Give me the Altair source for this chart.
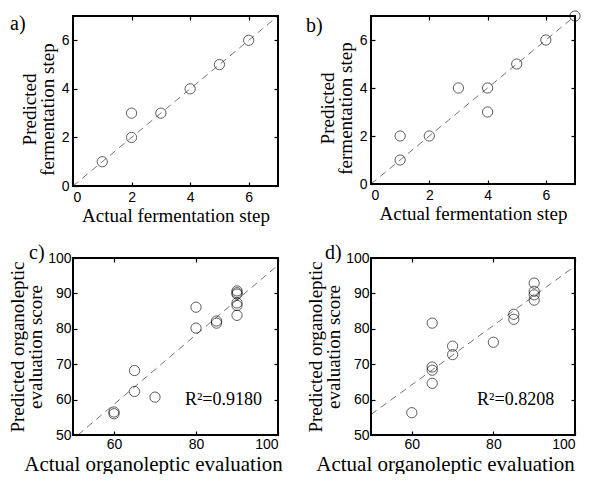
import altair as alt
import pandas as pd

# ---- data ----
a_x = [1, 2, 2, 3, 4, 5, 6]
a_y = [1, 2, 3, 3, 4, 5, 6]
b_x = [1, 1, 2, 3, 4, 4, 5, 6, 7]
b_y = [1, 2, 2, 4, 4, 3, 5, 6, 7]
ab_line_x = [0, 7]
ab_line_y = [0, 7]

c_x = [60, 60, 65, 65, 70, 80, 80, 85, 85, 90, 90, 90, 90, 90, 90]
c_y = [56.5, 56.0, 62.3, 68.2, 60.7, 86.1, 80.2, 82.2, 81.6, 90.7, 90.2, 89.8, 87.3, 86.6, 83.8]
c_line_x = [51.2, 100]
c_line_y = [50, 98]

d_x = [60, 65, 65, 65, 65, 70, 70, 80, 85, 85, 90, 90, 90, 90]
d_y = [56.3, 81.6, 69.2, 68.3, 64.6, 75.1, 72.7, 76.2, 84.1, 82.7, 92.9, 90.6, 89.6, 88.1]
d_line_x = [50, 100]
d_line_y = [55.8, 97.7]

ferm_ticks = [0, 2, 4, 6]
org_x_ticks = [60, 80, 100]
org_y_ticks = [50, 60, 70, 80, 90, 100]

c_note = ["R²=0.9180"]
c_note_x = [77.3]
c_note_y = [60.0]
d_note = ["R²=0.8208"]
d_note_x = [76.0]
d_note_y = [60.0]

SERIF = "Liberation Serif"
SANS = "Liberation Sans"


def panel(px, py, lx, ly, xdom, ydom, xticks, yticks, xtitle, ytitle, w, h,
          label, label_dx, label_dy, lab_fs, xt_fs, yt_fs, xtitle_x=None, ytitle_y=None,
          note=None, note_x=None, note_y=None, note_fs=18, lab_pad=4, ttl_pad=4,
          x_ttl_pad=2):
    pts = pd.DataFrame({"x": px, "y": py})
    ln = pd.DataFrame({"x": lx, "y": ly})
    xs = alt.Scale(domain=xdom, nice=False, zero=False)
    ys = alt.Scale(domain=ydom, nice=False, zero=False)
    tick_style = dict(tickSize=4, offset=-4, domain=False, tickColor="black",
                      tickWidth=1.2, grid=False)
    common = dict(tick_style, labelColor="black", labelFont=SANS,
                  labelFontSize=lab_fs, titleFont=SERIF, titleFontWeight="normal",
                  titleColor="black", labelPadding=lab_pad)
    xkw = dict(common, orient="bottom", values=xticks, title=xtitle,
               titleFontSize=xt_fs, titlePadding=x_ttl_pad)
    if xtitle_x is not None:
        xkw["titleX"] = xtitle_x
    ykw = dict(common, orient="left", values=yticks, title=ytitle,
               titleFontSize=yt_fs, titlePadding=ttl_pad,
               titleLineHeight=yt_fs - 1)
    if ytitle_y is not None:
        ykw["titleY"] = ytitle_y
    frame = alt.Chart(pd.DataFrame({"t": [label]})).mark_rect(
        fill="white", fillOpacity=0, stroke="black", strokeWidth=2).encode(
        x=alt.value(0), x2=alt.value(w), y=alt.value(0), y2=alt.value(h))
    tag = alt.Chart(pd.DataFrame({"t": [label]})).mark_text(
        align="left", baseline="top", font=SERIF, fontSize=20, color="black").encode(
        x=alt.value(label_dx), y=alt.value(label_dy), text="t:N")
    line = alt.Chart(ln).mark_line(color="#777777", strokeDash=[7, 5], strokeWidth=1).encode(
        x=alt.X("x:Q", scale=xs, axis=alt.Axis(**xkw)),
        y=alt.Y("y:Q", scale=ys, axis=alt.Axis(**ykw)),
    )
    frame_axes = alt.Chart(ln).mark_point(opacity=0).encode(
        x=alt.X("x:Q", scale=xs, axis=alt.Axis(orient="top", values=xticks, labels=False,
                                              title=None, **tick_style)),
        y=alt.Y("y:Q", scale=ys, axis=alt.Axis(orient="right", values=yticks, labels=False,
                                              title=None, **tick_style)),
    )
    points = alt.Chart(pts).mark_point(shape="circle", filled=False, color="black",
                                       size=105, strokeWidth=0.9, clip=False).encode(
        x=alt.X("x:Q", scale=xs, axis=None),
        y=alt.Y("y:Q", scale=ys, axis=None),
    )
    layers = [line, frame_axes, points, frame, tag]
    if note is not None:
        nd = pd.DataFrame({"x": note_x, "y": note_y, "t": note})
        txt = alt.Chart(nd).mark_text(align="left", baseline="middle", font=SERIF,
                                      fontSize=note_fs, color="black").encode(
            x=alt.X("x:Q", scale=xs, axis=None),
            y=alt.Y("y:Q", scale=ys, axis=None),
            text="t:N",
        )
        layers.append(txt)
    return alt.layer(*layers).properties(width=w, height=h)


pa = panel(a_x, a_y, ab_line_x, ab_line_y, [0, 7], [0, 7], ferm_ticks, ferm_ticks,
           "Actual fermentation step", ["Predicted", "fermentation step"], 205, 170,
           "a)", -63, -2, 14, 19, 19, ytitle_y=93)
pb = panel(b_x, b_y, ab_line_x, ab_line_y, [0, 7], [0, 7], ferm_ticks, ferm_ticks,
           "Actual fermentation step", ["Predicted", "fermentation step"], 204, 168,
           "b)", -65, 0, 14, 19, 19, ytitle_y=92)
pc = panel(c_x, c_y, c_line_x, c_line_y, [50, 100], [50, 100], org_x_ticks, org_y_ticks,
           "Actual organoleptic evaluation", ["Predicted organoleptic", "evaluation score"],
           205, 177, "c)", -44, -15, 14, 21, 19, xtitle_x=80, note=c_note, note_x=c_note_x,
           note_y=c_note_y, lab_pad=2, ttl_pad=2, x_ttl_pad=2)
pd_ = panel(d_x, d_y, d_line_x, d_line_y, [50, 100], [50, 100], org_x_ticks, org_y_ticks,
            "Actual organoleptic evaluation", ["Predicted organoleptic", "evaluation score"],
            204, 177, "d)", -46, -15, 14, 21, 19, xtitle_x=74, note=d_note, note_x=d_note_x,
            note_y=d_note_y, lab_pad=2, ttl_pad=2, x_ttl_pad=2)

chart = alt.concat(pa, pb, pc, pd_, columns=2, spacing={"row": 72, "column": 93},
                   bounds="flush").properties(
    padding={"left": 0, "top": 1, "right": 0, "bottom": 0},
    background="white").configure_view(strokeWidth=0)

chart.save("out.html", embed_options={"renderer": "svg", "actions": False})
